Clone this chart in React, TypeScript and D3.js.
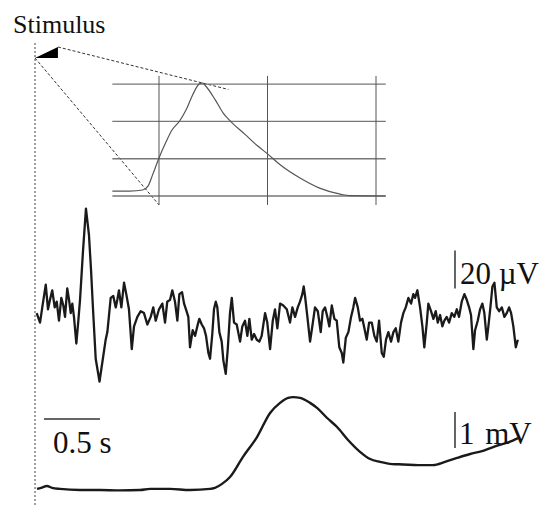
import React from "react";
import * as d3 from "d3";

// EEG trace: time (ms after stimulus) and amplitude (µV)
const EEG_T = [15,45,65,96,116,134,154,176,194,214,235,253,268,288,304,319,333,348,369,387,402,429,455,482,500,518,542,576,601,631,646,676,699,721,735,750,771,795,815,839,864,884,914,944,973,1003,1033,1056,1078,1107,1137,1161,1181,1206,1226,1250,1271,1289,1313,1331,1348,1369,1384,1408,1429,1449,1467,1489,1509,1527,1548,1563,1583,1598,1614,1628,1646,1667,1682,1703,1721,1741,1757,1777,1801,1831,1851,1875,1896,1914,1935,1956,1980,2003,2024,2054,2074,2099,2123,2143,2164,2188,2217,2248,2277,2298,2322,2346,2366,2387,2399,2411,2432,2456,2476,2500,2525,2551,2569,2590,2614,2628,2650,2673,2694,2717,2739,2753,2775,2798,2822,2842,2858,2882,2902,2923,2941,2962,2983,3007,3030,3051,3072,3096,3114,3134,3155,3179,3200,3221,3244,3268,3289,3310,3334,3358,3378,3393,3414,3438,3459,3476,3498,3512,3536,3557,3578,3596,3617,3637,3655,3676,3697,3721,3744,3766,3786,3810,3834,3855,3876,3893,3914,3929,3953,3974,3994,4012,4034,4048,4066,4084,4102,4123,4144,4168,4191,4212,4233,4251,4271,4293,4311];
const EEG_UV = [1,-4,4,16,3,8,13,4,7,-3,9,5,-1,14,8,1,6,-1,-15,-3,8,34,56,42,24,3,-23,-35,-25,-13,-9,9,10,4,8,13,4,17,11,3,-18,-6,-1,2,1,-5,-1,4,-3,3,6,-4,7,8,13,7,-3,11,12,6,3,-1,-17,-8,-11,-6,-2,-5,-7,-11,-20,-23,-10,3,7,4,-9,-14,-24,-31,-18,1,9,-4,-5,-14,-6,-3,-11,-2,-13,-10,-13,-14,-11,1,-4,-18,-3,3,-7,6,5,3,-4,4,-1,4,7,11,15,10,-1,-14,-6,4,2,-9,2,4,-2,-6,5,-2,-3,-17,-20,-25,-12,-9,-1,4,9,4,-3,-2,-7,-13,-4,-4,-11,-14,-3,-20,-22,-13,-9,-14,-9,-7,-14,-4,1,4,9,6,11,9,13,4,-6,-17,-4,6,2,-2,2,-4,0,-6,-3,-1,-4,1,-1,3,-1,7,11,8,4,0,-18,-8,-3,3,6,1,-13,-6,4,15,17,4,2,4,-1,1,4,1,-6,-17,-13];

// Slow potential: time (ms) and amplitude (mV)
const SLOW_T = [18,54,107,152,223,402,580,759,938,1027,1206,1384,1563,1607,1670,1741,1857,1982,2099,2188,2260,2304,2366,2456,2518,2608,2697,2795,2902,2992,3081,3188,3286,3420,3554,3661,3768,3885,3991,4143,4232,4313];
const SLOW_MV = [0.03,0.06,0.11,0.06,0.03,0,0,-0.01,0,0.03,0.03,0,0.03,0.06,0.17,0.36,0.92,1.47,2.14,2.42,2.56,2.58,2.56,2.42,2.28,2.0,1.75,1.39,1.06,0.86,0.78,0.72,0.71,0.69,0.69,0.78,0.89,1.0,1.08,1.25,1.33,1.44];

// Inset (zoomed stimulus response), arbitrary grid units
const INSET_U = [-0.43,-0.27,-0.15,-0.1,-0.06,0,0.06,0.12,0.19,0.25,0.31,0.37,0.4,0.43,0.52,0.59,0.66,0.79,0.91,1.0,1.12,1.3,1.48,1.67,1.76,2.09];
const INSET_V = [0.13,0.13,0.16,0.27,0.56,1.02,1.42,1.77,2.01,2.31,2.71,3.0,3.03,2.95,2.57,2.23,2.0,1.66,1.34,1.13,0.83,0.48,0.21,0.05,0.01,0];
const INSET_X_GRID = [0, 1, 2];
const INSET_Y_GRID = [0, 1, 2, 3];

const STIM_DURATION_MS = 205;
const TIME_BAR_MS = [80, 580];
const EEG_BAR_UV = [14, 34];
const SLOW_BAR_MV = [1.17, 2.17];

const LABELS = { stimulus: "Stimulus", eeg: "20 µV", slow: "1 mV", time: "0.5 s" };

export default function App() {
  const x = d3.scaleLinear().domain([0, 1000]).range([35, 147]);
  const yEeg = d3.scaleLinear().domain([0, 20]).range([315, 277]);
  const ySlow = d3.scaleLinear().domain([0, 1]).range([490, 454]);
  const xi = d3.scaleLinear().domain([0, 1]).range([159, 267.5]);
  const yi = d3.scaleLinear().domain([0, 1]).range([196, 158.7]);

  const eegLine = d3.line<number>().x((_, i) => x(EEG_T[i])).y((d) => yEeg(d)).curve(d3.curveLinear);
  const slowLine = d3.line<number>().x((_, i) => x(SLOW_T[i])).y((d) => ySlow(d)).curve(d3.curveMonotoneX);
  const insetLine = d3.line<number>().x((_, i) => xi(INSET_U[i])).y((d) => yi(d)).curve(d3.curveMonotoneX);

  const x0 = x(0);
  const xStimEnd = x(STIM_DURATION_MS);
  const triTop = 47;
  const triBot = 58;

  // dashed guide to the peak
  const pkI = INSET_V.indexOf(d3.max(INSET_V) as number);
  const pk = [xi(INSET_U[pkI]), yi(INSET_V[pkI])];
  const ext = 1.18;
  const g1end = [xStimEnd + (pk[0] - xStimEnd) * ext, triTop + (pk[1] - triTop) * ext];
  const g2end = [xi(0), yi(-0.24)];

  const serif = "'Liberation Serif', 'Times New Roman', serif";

  return (
    <svg width={543} height={507} style={{ position: "absolute", left: 0, top: 0, background: "#fff" }}>
      {/* stimulus marker line */}
      <line x1={x0} x2={x0} y1={43} y2={507} stroke="#444" strokeWidth={1} strokeDasharray="2,2" />
      <text x={13} y={33} fontFamily={serif} fontSize={26} fill="#111">{LABELS.stimulus}</text>
      <polygon points={`${x0},${triBot} ${xStimEnd},${triTop} ${xStimEnd},${triBot}`} fill="#000" />
      <line x1={xStimEnd} y1={triTop} x2={g1end[0]} y2={g1end[1]} stroke="#333" strokeWidth={1} strokeDasharray="3,2" />
      <line x1={x0} y1={triBot} x2={g2end[0]} y2={g2end[1]} stroke="#333" strokeWidth={1} strokeDasharray="3,2" />

      {/* inset grid */}
      {INSET_Y_GRID.map((v) => (
        <line key={"h" + v} x1={xi(-0.43)} x2={xi(2.09)} y1={yi(v)} y2={yi(v)} stroke="#777" strokeWidth={1.4} />
      ))}
      {INSET_X_GRID.map((u) => (
        <line key={"v" + u} x1={xi(u)} x2={xi(u)} y1={yi(3.22)} y2={yi(-0.24)} stroke="#555" strokeWidth={1} />
      ))}
      <path d={insetLine(INSET_V) || ""} fill="none" stroke="#555" strokeWidth={1.2} />

      {/* EEG */}
      <path d={eegLine(EEG_UV) || ""} fill="none" stroke="#1a1a1a" strokeWidth={2.3} strokeLinejoin="round" />
      <line x1={455} x2={455} y1={yEeg(EEG_BAR_UV[0])} y2={yEeg(EEG_BAR_UV[1])} stroke="#333" strokeWidth={1.5} />
      <text x={460} y={284} fontFamily={serif} fontSize={31} fill="#111">{LABELS.eeg}</text>

      {/* slow potential */}
      <path d={slowLine(SLOW_MV) || ""} fill="none" stroke="#1a1a1a" strokeWidth={2.4} />
      <line x1={455} x2={455} y1={ySlow(SLOW_BAR_MV[0])} y2={ySlow(SLOW_BAR_MV[1])} stroke="#333" strokeWidth={1.5} />
      <text x={459} y={444} fontFamily={serif} fontSize={31} fill="#111" wordSpacing={3}>{LABELS.slow}</text>

      {/* time scale bar */}
      <line x1={x(TIME_BAR_MS[0])} x2={x(TIME_BAR_MS[1])} y1={419} y2={419} stroke="#333" strokeWidth={1.5} />
      <text x={53} y={453} fontFamily={serif} fontSize={31} fill="#111">{LABELS.time}</text>
    </svg>
  );
}
